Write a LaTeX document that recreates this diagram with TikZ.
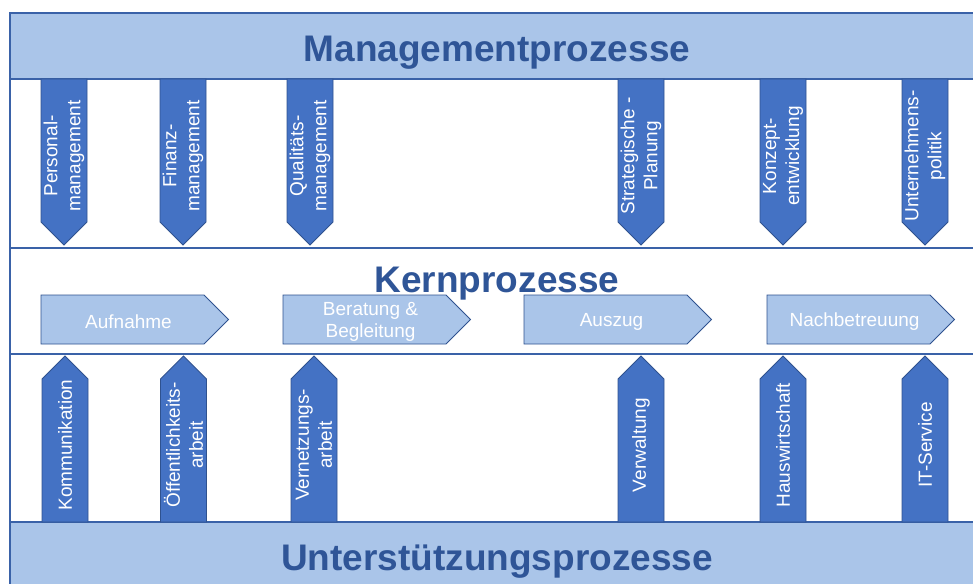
\documentclass[tikz,border=0pt]{standalone}
\usepackage{fontspec}
\setmainfont{Liberation Sans}
\usetikzlibrary{shapes.symbols,positioning}

\definecolor{bandblue}{HTML}{AAC5E9}
\definecolor{arrowblue}{HTML}{4472C4}
\definecolor{arrowedge}{HTML}{2F528F}
\definecolor{titleblue}{HTML}{2F5597}
\definecolor{lineblue}{HTML}{3A62A8}

\tikzset{
  band/.style={fill=bandblue, draw=lineblue, line width=1.3pt},
  frameline/.style={draw=lineblue, line width=1.3pt},
  procarrow/.style={fill=arrowblue, draw=arrowedge, line width=0.9pt},
  arrowtext/.style={text=white, rotate=90, align=center, inner sep=0pt,
    font=\fontsize{19}{23}\selectfont},
  chevron/.style={shape=signal, signal to=east, signal from=nowhere,
    signal pointer angle=90, fill=bandblue, draw=arrowedge, line width=0.9pt,
    minimum width=187.5pt, minimum height=49pt, inner sep=0pt},
  chevtext/.style={text=white, align=center, inner sep=0pt,
    font=\fontsize{19}{22}\selectfont},
  title/.style={text=titleblue, anchor=base, font=\fontsize{37}{40}\selectfont\bfseries}
}

\begin{document}
\begin{tikzpicture}[x=1pt, y=-1pt]

  \useasboundingbox (0,0) rectangle (973,583);
  \clip (0,0) rectangle (973,583);

  % bands and frame
  \draw[band] (10,13) rectangle (995,79);
  \draw[band] (10,522) rectangle (995,600);
  \draw[frameline] (10,79) -- (10,522);
  \draw[frameline] (10,248) -- (995,248);
  \draw[frameline] (10,354) -- (995,354);

  \node[title] (mgmt) at (497,62) {Managementprozesse};
  \node[title] (kern) at (497,292) {Kernprozesse};
  \node[title] (support) at (497,570) {Unterstützungsprozesse};

  % management processes
  \foreach \cx/\name/\txt in {64/m1/{Personal-\\management}, 183/m2/{Finanz-\\management},
      310/m3/{Qualitäts-\\management}, 641/m4/{Strategische -\\Planung},
      783/m5/{Konzept-\\entwicklung}, 925/m6/{Unternehmens-\\politik}} {
    \draw[procarrow] (\cx-23,79) -- (\cx+23,79) -- (\cx+23,222) -- (\cx,245) -- (\cx-23,222) -- cycle;
    \node[arrowtext] (\name) at (\cx,156) {\txt};
  }

  % core processes
  \foreach \cx/\name/\txt in {122.5/k1/{Aufnahme}, 364.5/k2/{Beratung \&\\Begleitung},
      605.5/k3/{Auszug}, 848.5/k4/{Nachbetreuung}} {
    \node[chevron] (\name) at (\cx,319.5) {};
    \node[chevtext, left=-6pt of \name.center, anchor=center, yshift=-2pt] (\name t) {\txt};
  }

  % support processes
  \foreach \cx/\name/\txt in {65/u1/{Kommunikation}, 183.5/u2/{Öffentlichkeits-\\arbeit},
      314/u3/{Vernetzungs-\\arbeit}, 641/u4/{Verwaltung},
      783/u5/{Hauswirtschaft}, 925/u6/{IT-Service}} {
    \draw[procarrow] (\cx-23,522) -- (\cx-23,379) -- (\cx,356) -- (\cx+23,379) -- (\cx+23,522) -- cycle;
    \node[arrowtext] (\name) at (\cx,445) {\txt};
  }

\end{tikzpicture}
\end{document}
